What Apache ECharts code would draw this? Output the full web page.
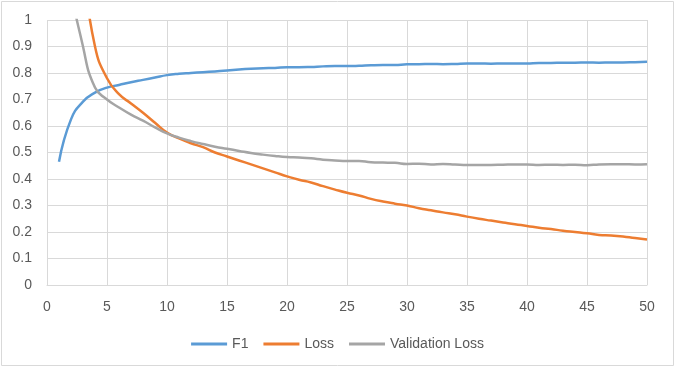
<!DOCTYPE html>
<html>
<head>
<meta charset="utf-8">
<script src="https://cdn.jsdelivr.net/npm/echarts@6/dist/echarts.min.js"></script>
<style>
    body { margin: 0; background: #fff; }
    #chart { width: 675px; height: 367px; }
</style>
</head>
<body>
<div id="chart"></div>
<script>
    var epochs = [];
    for (var i = 1; i <= 50; i++) epochs.push(i);

    var f1 = [0.465, 0.625, 0.692, 0.726, 0.745, 0.755, 0.765, 0.774, 0.783, 0.792,
              0.797, 0.800, 0.803, 0.806, 0.809, 0.813, 0.816, 0.818, 0.819, 0.822,
              0.822, 0.823, 0.825, 0.826, 0.826, 0.827, 0.829, 0.830, 0.830, 0.833,
              0.833, 0.834, 0.833, 0.834, 0.836, 0.836, 0.835, 0.836, 0.836, 0.836,
              0.838, 0.838, 0.839, 0.839, 0.840, 0.839, 0.840, 0.840, 0.841, 0.842];

    var loss = [2.2, 1.6, 1.2, 0.90, 0.78, 0.72, 0.685, 0.65, 0.612, 0.575,
                0.553, 0.535, 0.52, 0.50, 0.485, 0.47, 0.455, 0.44, 0.425, 0.41,
                0.397, 0.387, 0.373, 0.36, 0.348, 0.338, 0.325, 0.315, 0.307, 0.30,
                0.29, 0.282, 0.274, 0.267, 0.258, 0.25, 0.243, 0.236, 0.229, 0.223,
                0.216, 0.211, 0.205, 0.200, 0.195, 0.189, 0.187, 0.183, 0.177, 0.172];

    var valLoss = [1.9, 1.15, 0.90, 0.745, 0.70, 0.67, 0.643, 0.62, 0.595, 0.572,
                   0.556, 0.543, 0.532, 0.522, 0.514, 0.506, 0.498, 0.492, 0.487, 0.483,
                   0.481, 0.478, 0.473, 0.470, 0.468, 0.468, 0.463, 0.462, 0.461, 0.457,
                   0.458, 0.455, 0.457, 0.455, 0.453, 0.453, 0.453, 0.454, 0.455, 0.455,
                   0.453, 0.454, 0.453, 0.454, 0.452, 0.455, 0.456, 0.456, 0.455, 0.456];

    var names = ['F1', 'Loss', 'Validation Loss'];
    var colors = ['#5b9bd5', '#ed7d31', '#a5a5a5'];

    function pairs(ys) {
        return epochs.map(function (x, i) { return [x, ys[i]]; });
    }

    var font = 'Liberation Sans';
    var chart = echarts.init(document.getElementById('chart'));
    chart.setOption({
        animation: false,
        color: colors,
        graphic: [{
            type: 'rect',
            shape: { x: 1.5, y: 1.5, width: 672, height: 364 },
            style: { fill: 'none', stroke: '#d9d9d9', lineWidth: 1 }
        }],
        grid: { left: 47, right: 28, top: 20, bottom: 82 },
        legend: {
            left: 'center',
            top: 332,
            icon: 'rect',
            itemWidth: 36,
            itemHeight: 3,
            itemGap: 15,
            textStyle: { fontFamily: font, fontSize: 14, color: '#595959' },
            data: names
        },
        xAxis: {
            type: 'value',
            min: 0,
            max: 50,
            interval: 5,
            axisLine: { show: true, lineStyle: { color: '#d9d9d9' } },
            axisTick: { show: false },
            axisLabel: { fontFamily: font, fontSize: 14, color: '#595959', margin: 15 },
            splitLine: { show: true, lineStyle: { color: '#d9d9d9' } }
        },
        yAxis: {
            type: 'value',
            min: 0,
            max: 1,
            interval: 0.1,
            axisLine: { show: false },
            axisTick: { show: false },
            axisLabel: { fontFamily: font, fontSize: 14, color: '#595959', margin: 15 },
            splitLine: { show: true, lineStyle: { color: '#d9d9d9' } }
        },
        series: [
            { name: names[0], type: 'line', data: pairs(f1), symbol: 'none', smooth: 0.5, clip: true, lineStyle: { width: 2.5 } },
            { name: names[1], type: 'line', data: pairs(loss), symbol: 'none', smooth: 0.5, clip: true, lineStyle: { width: 2.5 } },
            { name: names[2], type: 'line', data: pairs(valLoss), symbol: 'none', smooth: 0.5, clip: true, lineStyle: { width: 2.5 } }
        ]
    });
</script>
</body>
</html>
